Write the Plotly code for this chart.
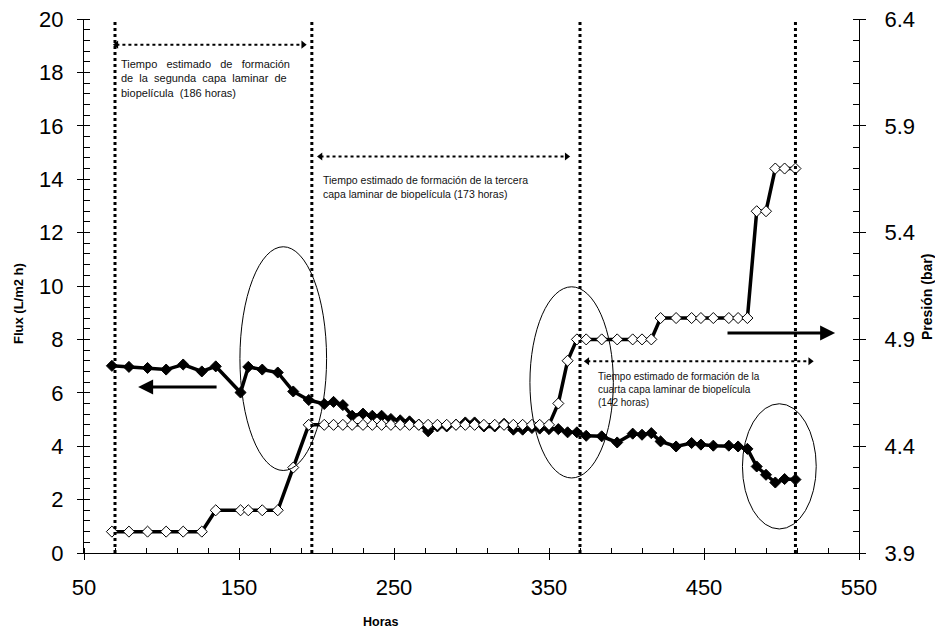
import plotly.graph_objects as go

# ---------------- data ----------------
horas = [68, 79, 91, 103, 114, 126, 135, 151, 156, 165, 175, 185, 195, 205, 211, 217,
         223, 230, 236, 242, 248, 254, 260, 266, 272, 278, 284, 290, 296, 302, 308, 315,
         321, 327, 333, 339, 344, 350, 356, 362, 368, 374, 384, 394, 404, 410, 416, 422,
         432, 442, 448, 456, 466, 472, 478, 484, 490, 496, 502, 509]

flux = [7.01, 6.97, 6.93, 6.87, 7.06, 6.80, 6.99, 6.01, 6.97, 6.87, 6.76, 6.05, 5.73, 5.58, 5.66, 5.54,
        5.14, 5.22, 5.14, 5.14, 5.02, 4.97, 4.93, 4.81, 4.56, 4.74, 4.74, 4.81, 4.89, 4.89, 4.74, 4.74,
        4.84, 4.62, 4.62, 4.68, 4.66, 4.64, 4.64, 4.52, 4.52, 4.39, 4.37, 4.14, 4.47, 4.43, 4.49, 4.18,
        3.99, 4.12, 4.06, 4.02, 4.02, 3.99, 3.90, 3.24, 2.93, 2.64, 2.77, 2.75]

presion = [4.0, 4.0, 4.0, 4.0, 4.0, 4.0, 4.1, 4.1, 4.1, 4.1, 4.1, 4.3, 4.5, 4.5, 4.5, 4.5,
           4.5, 4.5, 4.5, 4.5, 4.5, 4.5, 4.5, 4.5, 4.5, 4.5, 4.5, 4.5, 4.5, 4.5, 4.5, 4.5,
           4.5, 4.5, 4.5, 4.5, 4.5, 4.5, 4.6, 4.8, 4.9, 4.9, 4.9, 4.9, 4.9, 4.9, 4.9, 5.0,
           5.0, 5.0, 5.0, 5.0, 5.0, 5.0, 5.0, 5.5, 5.5, 5.7, 5.7, 5.7]

# phase boundaries (hours)
limites = [70, 197, 370, 509]

# dotted double-arrows: (x start, x end, flux level)
flechas_periodo = [(70.9, 191.4, 19.04), (202.6, 361.4, 14.85), (374.7, 518.5, 7.18)]

textos = [
    "Tiempo\u00a0\u00a0 estimado\u00a0\u00a0 de\u00a0\u00a0 formación<br>de\u00a0 la\u00a0 segunda\u00a0 capa\u00a0 laminar\u00a0 de<br>biopelícula\u00a0 (186 horas)",
    "Tiempo estimado de formación de la tercera<br>capa laminar de biopelícula (173 horas)",
    "Tiempo estimado de formación de la<br>cuarta capa laminar de biopelícula<br>(142 horas)",
]
textos_pos = [(72.4, 18.62, 11), (202.8, 14.28, 10.5), (380.3, 6.90, 10)]

# ellipses: (x0, x1, y0, y1) in flux-axis units
elipses = [(150.6, 206.5, 3.09, 11.47), (337.7, 391.5, 2.81, 9.97), (474.8, 522.4, 0.90, 5.59)]

FONT = "Arial, 'Liberation Sans', sans-serif"

fig = go.Figure()

fig.add_trace(go.Scatter(
    x=horas, y=flux, mode="lines+markers", name="Flux",
    line=dict(color="black", width=3.5),
    marker=dict(symbol="diamond", size=8.5, color="black", line=dict(color="black", width=1)),
    showlegend=False))

fig.add_trace(go.Scatter(
    x=horas, y=presion, mode="lines+markers", name="Presión", yaxis="y2",
    line=dict(color="black", width=3.5),
    marker=dict(symbol="diamond", size=8.5, color="white", line=dict(color="black", width=1)),
    showlegend=False))

for (xa, xb, yv) in flechas_periodo:
    fig.add_trace(go.Scatter(
        x=[xa, xb], y=[yv, yv], mode="lines+markers",
        line=dict(color="black", width=2, dash="dot"),
        marker=dict(symbol=["triangle-left", "triangle-right"], size=7, color="black"),
        showlegend=False, hoverinfo="skip"))

shapes = []
for xv in limites:
    shapes.append(dict(type="line", xref="x", yref="y", x0=xv, x1=xv, y0=0, y1=20,
                       line=dict(color="black", width=3, dash="dot")))
for (x0, x1, y0, y1) in elipses:
    shapes.append(dict(type="circle", xref="x", yref="y", x0=x0, x1=x1, y0=y0, y1=y1,
                       line=dict(color="black", width=1)))

annotations = []
for t, (xv, yv, fs) in zip(textos, textos_pos):
    annotations.append(dict(x=xv, y=yv, xref="x", yref="y", text=t, showarrow=False,
                            xanchor="left", yanchor="top", align="left",
                            font=dict(family=FONT, size=fs, color="#111")))

# solid arrows
annotations.append(dict(x=84.9, y=6.22, ax=136.5, ay=6.22, xref="x", yref="y",
                        axref="x", ayref="y", text="", showarrow=True,
                        arrowhead=2, arrowsize=1, arrowwidth=3, arrowcolor="black"))
annotations.append(dict(x=534.6, y=8.24, ax=464.2, ay=8.24, xref="x", yref="y",
                        axref="x", ayref="y", text="", showarrow=True,
                        arrowhead=2, arrowsize=1, arrowwidth=3, arrowcolor="black"))

# axis titles
annotations.append(dict(x=0, y=0.5, xref="paper", yref="paper", xshift=-66, yshift=-18,
                        xanchor="center", yanchor="middle",
                        text="<b>Flux (L/m2 h)</b>", showarrow=False, textangle=-90,
                        font=dict(family=FONT, size=13, color="black")))
annotations.append(dict(x=1, y=0.5, xref="paper", yref="paper", xshift=68, yshift=-11,
                        xanchor="center", yanchor="middle",
                        text="<b>Presión (bar)</b>", showarrow=False, textangle=-90,
                        font=dict(family=FONT, size=14, color="black")))
annotations.append(dict(x=0.383, y=0, xref="paper", yref="paper", yshift=-69,
                        xanchor="center", yanchor="middle",
                        text="<b>Horas</b>", showarrow=False,
                        font=dict(family=FONT, size=12.5, color="black")))

# figure sized so that the page (with the default 8px body margin) fills the window
fig.update_layout(
    width=927, height=621,
    margin=dict(l=76, r=76, t=11, b=76),
    paper_bgcolor="white", plot_bgcolor="white",
    font=dict(family=FONT, color="black"),
    shapes=shapes, annotations=annotations,
    xaxis=dict(range=[50, 550], tick0=50, dtick=100, showgrid=False, zeroline=False,
               showline=True, linecolor="black", linewidth=1, automargin=False,
               ticks="outside", ticklen=6, tickcolor="black", ticklabeloverflow="allow",
               minor=dict(tick0=50, dtick=20, ticks="inside", ticklen=5, tickcolor="black"),
               tickfont=dict(size=22, family=FONT), ticklabelstandoff=9),
    yaxis=dict(range=[0, 20], tick0=0, dtick=2, showgrid=False, zeroline=False,
               showline=True, linecolor="black", linewidth=1, automargin=False,
               ticks="outside", ticklen=6, tickcolor="black", ticklabeloverflow="allow",
               minor=dict(tick0=0, dtick=0.4, ticks="inside", ticklen=6, tickcolor="black"),
               tickfont=dict(size=22, family=FONT), ticklabelstandoff=9),
    yaxis2=dict(range=[3.9, 6.4], tick0=3.9, dtick=0.5, overlaying="y", side="right",
                showgrid=False, zeroline=False, tickformat=".1f", automargin=False,
                showline=True, linecolor="black", linewidth=1,
                ticks="outside", ticklen=6, tickcolor="black", ticklabeloverflow="allow",
                minor=dict(tick0=3.9, dtick=0.1, ticks="inside", ticklen=6, tickcolor="black"),
                tickfont=dict(size=22, family=FONT), ticklabelstandoff=14),
)

fig.write_html("out.html")
